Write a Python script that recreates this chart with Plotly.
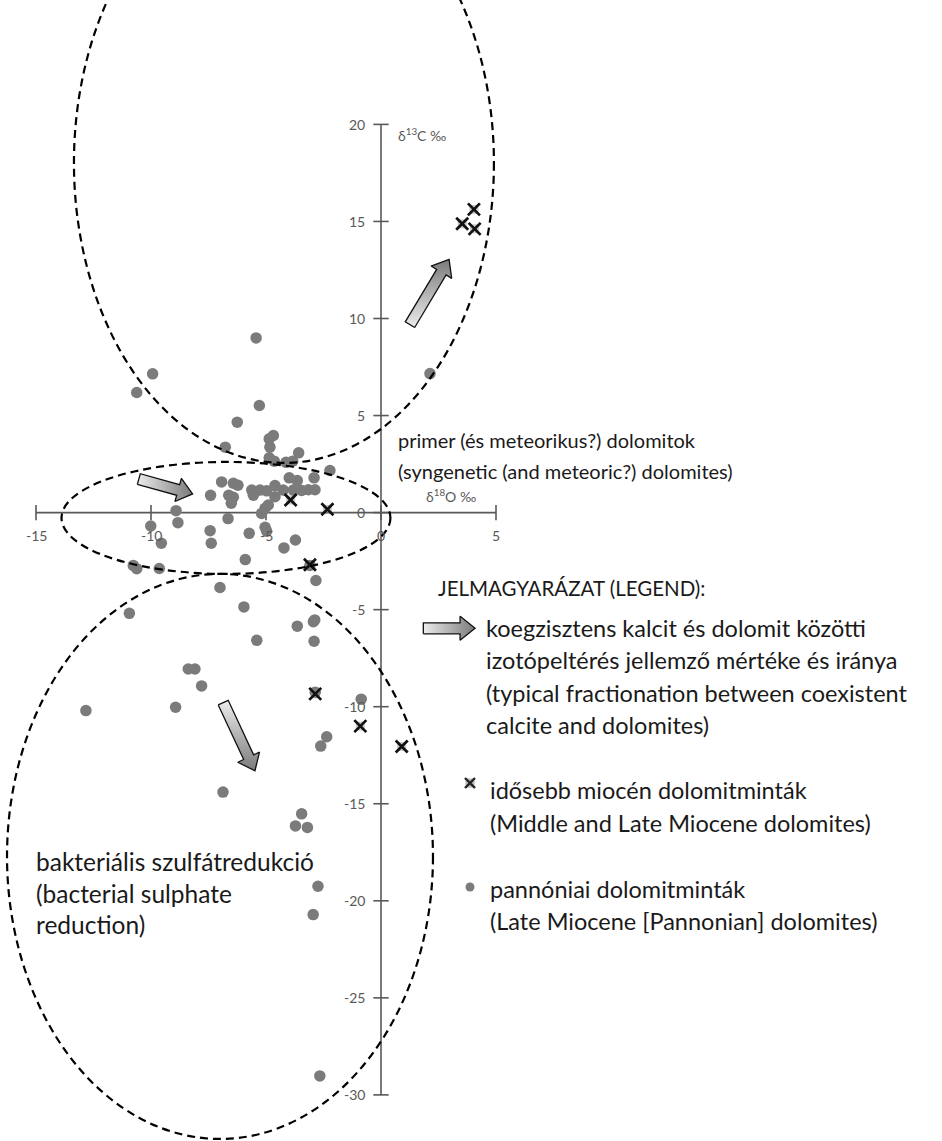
import plotly.graph_objects as go

# ---------------- data ----------------
# Pannonian (Late Miocene) dolomites – grey dots
pann_x = [-5.43, -9.93, -10.62, -5.29, -6.25, -4.68, -4.86, -4.83, -6.77, -3.58,
          -4.86, -4.64, -4.13, -3.84, -2.22, -3.99, -3.64, -2.91, -6.93, -6.42,
          -6.22, -4.61, -5.62, -5.26, -4.97, -4.25, -3.81, -3.45, -3.16, -2.87,
          -5.55, -4.61, -7.41, -6.62, -6.42, -6.51, -4.90, -5.04, -5.19, -8.91,
          -8.83, -6.65, -10.01, -7.43, -5.73, -5.04, -4.97, -9.55, -7.38, -3.72,
          -4.22, -5.90, -10.77, -10.62, -9.64, -2.83, -7.00, -5.96, -3.64, -2.94,
          -2.88, -5.40, -2.91, -0.86, -2.36, -2.62, -6.87, -3.45, -3.72, -3.20,
          -2.74, -2.95, -2.66, 2.13, -10.94, -8.38, -8.09, -7.80, -12.83, -8.93,
          -3.09, -2.86]
pann_y = [9.00, 7.15, 6.19, 5.52, 4.66, 3.97, 3.80, 3.37, 3.37, 3.08,
          2.82, 2.65, 2.59, 2.65, 2.17, 1.79, 1.65, 1.79, 1.58, 1.51,
          1.41, 1.39, 1.16, 1.16, 1.12, 1.16, 1.16, 1.14, 1.18, 1.18,
          0.90, 0.82, 0.89, 0.89, 0.79, 0.48, 0.39, 0.22, -0.04, 0.10,
          -0.52, -0.31, -0.69, -0.93, -1.07, -0.76, -0.96, -1.58, -1.58, -1.41,
          -1.82, -2.42, -2.72, -2.89, -2.88, -3.50, -3.86, -4.86, -5.85, -5.62,
          -5.53, -6.58, -6.63, -9.61, -11.55, -12.03, -14.40, -15.52, -16.14, -16.22,
          -19.25, -20.71, -29.02, 7.16, -5.19, -8.06, -8.06, -8.93, -10.20, -10.03,
          -2.72, -9.25]

# Middle and Late Miocene dolomites – black crosses
mio_x = [-3.93, -2.33, -3.09, -2.86, -0.90, 0.90, 3.53, 4.04, 4.07]
mio_y = [0.65, 0.17, -2.69, -9.34, -11.00, -12.05, 14.88, 15.62, 14.62]

x_ticks = [-15, -10, -5, 0, 5]
x_tick_labels = ["-15", "-10", "-5", "0", "5"]
y_ticks = [20, 15, 10, 5, 0, -5, -10, -15, -20, -25, -30]
y_tick_labels = ["20", "15", "10", "5", "0", "-5", "-10", "-15", "-20", "-25", "-30"]

# ellipses (x0, x1, y0, y1) in data units
ellipse_top = (-13.35, 4.91, 2.56, 33.47)
ellipse_mid = (-13.89, 0.41, -3.16, 2.61)
ellipse_bot = (-16.26, 2.26, -32.27, -3.16)

# fractionation arrows: (tail_x, tail_y, tip_x, tip_y)
arrow_mid = (-10.53, 1.73, -8.19, 0.96)
arrow_top = (1.26, 9.68, 2.96, 13.05)
arrow_bot = (-6.86, -9.79, -5.48, -13.30)
arrow_leg = (1.84, -5.96, 4.09, -5.96)

# ---------------- geometry of the canvas ----------------
W, H = 942, 1141
ORIGIN_PX = (381.0, 512.6)
PX_PER_X = 23.0
PX_PER_Y = 19.41
x_range = [-ORIGIN_PX[0] / PX_PER_X, (W - ORIGIN_PX[0]) / PX_PER_X]
y_range = [(ORIGIN_PX[1] - H) / PX_PER_Y, ORIGIN_PX[1] / PX_PER_Y]

AX_COL = "#595959"
DOT_COL = "#7b7b7b"
TXT_COL = "#1a1a1a"
FONT = "Lato"
LEG_SIZE = 23.5


def to_px(x, y):
    return ORIGIN_PX[0] + x * PX_PER_X, ORIGIN_PX[1] - y * PX_PER_Y


def to_data(px, py):
    return (px - ORIGIN_PX[0]) / PX_PER_X, (ORIGIN_PX[1] - py) / PX_PER_Y


def arrow_polygon(a, body=11.0, head=24.0, head_len=15.0):
    tx, ty = to_px(a[0], a[1])
    hx, hy = to_px(a[2], a[3])
    dx, dy = hx - tx, hy - ty
    L = (dx * dx + dy * dy) ** 0.5
    ux, uy = dx / L, dy / L
    nx, ny = -uy, ux
    bx, by = hx - ux * head_len, hy - uy * head_len
    pts = [
        (tx + nx * body / 2, ty + ny * body / 2),
        (bx + nx * body / 2, by + ny * body / 2),
        (bx + nx * head / 2, by + ny * head / 2),
        (hx, hy),
        (bx - nx * head / 2, by - ny * head / 2),
        (bx - nx * body / 2, by - ny * body / 2),
        (tx - nx * body / 2, ty - ny * body / 2),
        (tx + nx * body / 2, ty + ny * body / 2),
    ]
    d = [to_data(p[0], p[1]) for p in pts]
    return [p[0] for p in d], [p[1] for p in d]


fig = go.Figure()

# axes lines
fig.add_trace(go.Scatter(x=[x_ticks[0], x_ticks[-1]], y=[0, 0], mode="lines",
                         line=dict(color=AX_COL, width=1.6), hoverinfo="skip"))
fig.add_trace(go.Scatter(x=[0, 0], y=[y_ticks[-1], y_ticks[0]], mode="lines",
                         line=dict(color=AX_COL, width=1.6), hoverinfo="skip"))
# tick marks
fig.add_trace(go.Scatter(x=x_ticks, y=[0] * len(x_ticks), mode="markers",
                         marker=dict(symbol="line-ns", size=11,
                                     line=dict(color=AX_COL, width=1.6)),
                         hoverinfo="skip"))
fig.add_trace(go.Scatter(x=[0] * len(y_ticks), y=y_ticks, mode="markers",
                         marker=dict(symbol="line-ew", size=11,
                                     line=dict(color=AX_COL, width=1.6)),
                         hoverinfo="skip"))

# arrows with gradient fill
grad_light_to_dark = [[0, "#ececec"], [1, "#7a7a7a"]]
grad_dark_to_light = [[0, "#7a7a7a"], [1, "#ececec"]]
for arr, gtype, cs in [(arrow_mid, "horizontal", grad_light_to_dark),
                       (arrow_top, "vertical", grad_light_to_dark),
                       (arrow_bot, "vertical", grad_dark_to_light),
                       (arrow_leg, "horizontal", grad_light_to_dark)]:
    ax_, ay_ = arrow_polygon(arr)
    fig.add_trace(go.Scatter(x=ax_, y=ay_, mode="lines", fill="toself",
                             fillgradient=dict(type=gtype, colorscale=cs),
                             line=dict(color="#111111", width=1.3),
                             hoverinfo="skip"))

# data points
fig.add_trace(go.Scatter(x=pann_x, y=pann_y, mode="markers",
                         marker=dict(symbol="circle", size=11.5, color=DOT_COL),
                         name="pannóniai dolomitminták"))
fig.add_trace(go.Scatter(x=mio_x, y=mio_y, mode="markers",
                         marker=dict(symbol="square", size=9, color="#8a8a8a",
                                     opacity=0.45),
                         hoverinfo="skip"))
fig.add_trace(go.Scatter(x=mio_x, y=mio_y, mode="markers",
                         marker=dict(symbol="x-thin", size=12,
                                     line=dict(color="#111111", width=2.7)),
                         name="idősebb miocén dolomitminták"))

# legend swatches (positioned next to the legend text)
leg_sw_x, leg_sw_y = to_data(470, 783)
leg_sw_x2, leg_sw_y2 = to_data(470, 887)
fig.add_trace(go.Scatter(x=[leg_sw_x], y=[leg_sw_y], mode="markers",
                         marker=dict(symbol="square", size=9, color="#8a8a8a", opacity=0.6),
                         hoverinfo="skip"))
fig.add_trace(go.Scatter(x=[leg_sw_x], y=[leg_sw_y], mode="markers",
                         marker=dict(symbol="x-thin", size=10,
                                     line=dict(color="#222222", width=2.4)),
                         hoverinfo="skip"))
fig.add_trace(go.Scatter(x=[leg_sw_x2], y=[leg_sw_y2], mode="markers",
                         marker=dict(symbol="circle", size=9, color=DOT_COL),
                         hoverinfo="skip"))

# ellipses
shapes = []
for e in (ellipse_top, ellipse_mid, ellipse_bot):
    shapes.append(dict(type="circle", xref="x", yref="y",
                       x0=e[0], x1=e[1], y0=e[2], y1=e[3],
                       line=dict(color="#000000", width=2.2, dash="8px,5px"),
                       layer="above"))

annotations = []
# tick labels
for v, t in zip(x_ticks, x_tick_labels):
    annotations.append(dict(x=v, y=0, xref="x", yref="y", text=t, showarrow=False,
                            yanchor="top", yshift=-12,
                            font=dict(family=FONT, size=14, color=AX_COL)))
for v, t in zip(y_ticks, y_tick_labels):
    annotations.append(dict(x=0, y=v, xref="x", yref="y", text=t, showarrow=False,
                            xanchor="right", xshift=-14,
                            font=dict(family=FONT, size=14, color=AX_COL)))


def ptext(px, py, text, size=LEG_SIZE, color=TXT_COL, anchor="left"):
    annotations.append(dict(x=px / W, y=1 - py / H, xref="paper", yref="paper",
                            text=text, showarrow=False, xanchor=anchor,
                            yanchor="middle",
                            font=dict(family=FONT, size=size, color=color)))


ptext(396, 135, "δ<sup>13</sup>C ‰", size=14, color=AX_COL)
ptext(424, 495, "δ<sup>18</sup>O ‰", size=14, color=AX_COL)

ptext(396, 440, "primer (és meteorikus?) dolomitok", size=20)
ptext(396, 471, "(syngenetic (and meteoric?) dolomites)", size=20)

ptext(436, 588, "JELMAGYARÁZAT (LEGEND):", size=20.5)
ptext(484, 628, "koegzisztens kalcit és dolomit közötti")
ptext(484, 660, "izotópeltérés jellemző mértéke és iránya")
ptext(484, 693, "(typical fractionation between coexistent")
ptext(484, 725, "calcite and dolomites)")
ptext(488, 790, "idősebb miocén dolomitminták")
ptext(488, 823, "(Middle and Late Miocene dolomites)")
ptext(488, 889, "pannóniai dolomitminták")
ptext(488, 921, "(Late Miocene [Pannonian] dolomites)")

ptext(34, 861, "bakteriális szulfátredukció", size=24.5)
ptext(34, 893, "(bacterial sulphate", size=24.5)
ptext(34, 924, "reduction)", size=24.5)

fig.update_layout(
    width=W, height=H,
    margin=dict(l=0, r=0, t=0, b=0),
    paper_bgcolor="white", plot_bgcolor="white",
    showlegend=False,
    xaxis=dict(range=x_range, visible=False, showgrid=False, zeroline=False, fixedrange=True),
    yaxis=dict(range=y_range, visible=False, showgrid=False, zeroline=False, fixedrange=True),
    shapes=shapes,
    annotations=annotations,
)

fig.write_html("out.html", config={"displayModeBar": False},
               post_script="document.body.style.margin='0';document.body.style.padding='0';")
